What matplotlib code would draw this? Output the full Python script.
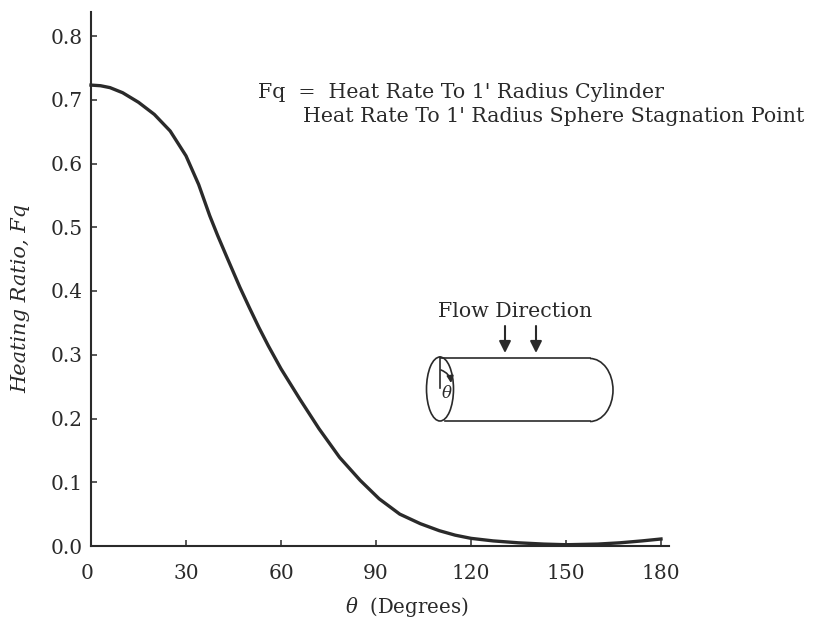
import numpy as np
import matplotlib
matplotlib.use("Agg")
import matplotlib.pyplot as plt
import matplotlib.transforms as mtrans
from matplotlib.patches import Ellipse, Arc

theta = [0, 3, 6, 10, 15, 20, 25, 30, 34, 37.5, 40, 43, 47, 50, 53, 56, 60, 66, 72, 78.5, 85, 91, 97.5, 104, 110, 115, 120, 127, 135, 143, 150, 160, 167, 174, 180]
fq = [0.723, 0.722, 0.719, 0.711, 0.696, 0.677, 0.651, 0.612, 0.567, 0.518, 0.487, 0.452, 0.406, 0.374, 0.343, 0.314, 0.278, 0.230, 0.184, 0.139, 0.103, 0.074, 0.05, 0.035, 0.024, 0.017, 0.012, 0.008, 0.005, 0.003, 0.002, 0.003, 0.005, 0.008, 0.011]
xticks = [0, 30, 60, 90, 120, 150, 180]
yticks = [0.0, 0.1, 0.2, 0.3, 0.4, 0.5, 0.6, 0.7, 0.8]

plt.rcParams["font.family"] = "DejaVu Serif"
plt.rcParams["mathtext.fontset"] = "dejavuserif"
ink = "#2a2a2a"

fig = plt.figure(figsize=[8.4, 6.2], dpi=100)
# x=0 at 91 px, x=180 at 661 px, y=0 at 546 px, y=0.8 at 36 px
ax = fig.add_axes([91 / 840, 1 - 546 / 620, (669 - 91) / 840, (546 - 12) / 620])
ax.set_xlim(0, 578 / 570 * 180)
ax.set_ylim(0, 534 / 510 * 0.8)
ax.plot(theta, fq, color=ink, lw=2.4, clip_on=False)

ax.spines["top"].set_visible(False)
ax.spines["right"].set_visible(False)
ax.spines["left"].set_linewidth(1.5)
ax.spines["bottom"].set_linewidth(1.5)
ax.spines["left"].set_color(ink)
ax.spines["bottom"].set_color(ink)
ax.set_xticks(xticks)
ax.set_yticks(yticks)
ax.set_xticklabels([str(t) for t in xticks])
ax.set_yticklabels([f"{t:.1f}" for t in yticks])
ax.tick_params(direction="in", labelsize=14.5, length=4, width=1.1, color=ink, labelcolor=ink)
ax.tick_params(axis="x", pad=13)
ax.tick_params(axis="y", pad=6)
# the 0 sits a little left of its tick
first = ax.get_xticklabels()[0]
first.set_transform(first.get_transform() + mtrans.ScaledTranslation(-4 / 100, 0, fig.dpi_scale_trans))

fig.text(345 / 840, 1 - 607 / 620, r"$\theta$  (Degrees)", fontsize=14.2, color=ink, ha="left", va="center")
fig.text(21 / 840, 1 - 298 / 620, "Heating Ratio, Fq", fontsize=15, color=ink, style="italic", rotation=90, ha="center", va="center")

fig.text(258 / 840, 1 - 92 / 620, "Fq  =  Heat Rate To 1' Radius Cylinder", fontsize=14.8, color=ink, va="center")
fig.text(303 / 840, 1 - 116 / 620, "Heat Rate To 1' Radius Sphere Stagnation Point", fontsize=14.8, color=ink, va="center")
fig.text(515 / 840, 1 - 312 / 620, "Flow Direction", fontsize=14.8, color=ink, va="center", ha="center")

# sketch of the cylinder, in pixel coordinates on an overlay
ov = fig.add_axes([0, 0, 1, 1])
ov.set_xlim(0, 840)
ov.set_ylim(620, 0)
ov.axis("off")
ov.patch.set_alpha(0)
ov.add_patch(Ellipse((440, 389), 27, 64, fill=False, lw=1.2, color=ink))
ov.add_patch(Arc((590, 390), 46, 63, theta1=-90, theta2=90, lw=1.2, color=ink))
ov.plot([441, 590], [358, 358], color=ink, lw=1.2)
ov.plot([445, 590], [421, 421], color=ink, lw=1.2)
ov.plot([440, 440], [357, 388], color=ink, lw=1.2)
ov.annotate("", xy=(451, 383), xytext=(441, 370), arrowprops=dict(arrowstyle="-|>", color=ink, lw=1.2, shrinkA=0, shrinkB=0, connectionstyle="arc3,rad=-0.3"))
ov.text(447, 393, r"$\theta$", fontsize=12, color=ink, ha="center", va="center")
for x in [505, 536]:
    ov.annotate("", xy=(x, 353), xytext=(x, 326), arrowprops=dict(arrowstyle="-|>,head_width=0.35,head_length=0.7", color=ink, lw=1.5, shrinkA=0, shrinkB=0))

plt.savefig("out.png", dpi=100)
